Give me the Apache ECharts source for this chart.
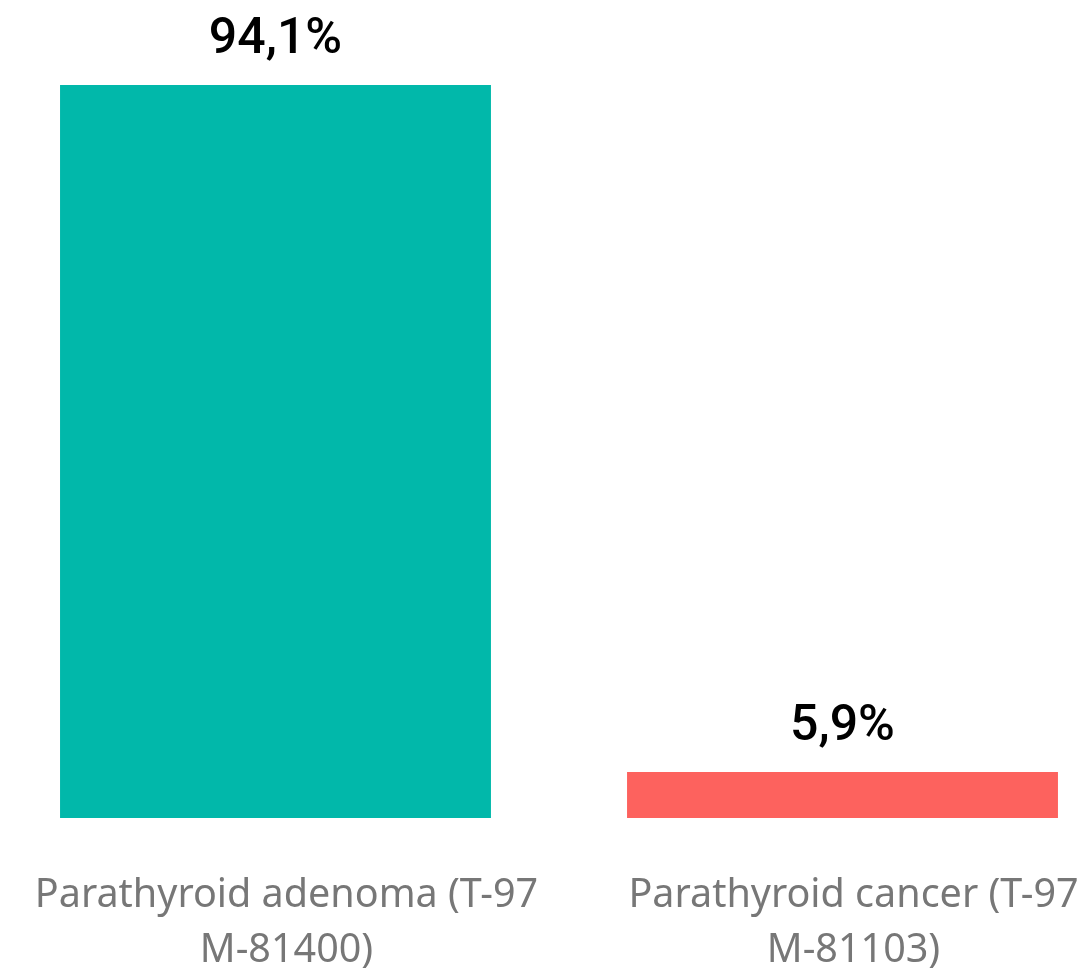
<!DOCTYPE html>
<html>
<head>
<meta charset="utf-8">
<script src="https://cdn.jsdelivr.net/npm/echarts@6/dist/echarts.min.js"></script>
<style>
  html, body { margin: 0; padding: 0; background: #ffffff; }
  #chart { width: 1092px; height: 977px; }
</style>
</head>
<body>
<div id="chart"></div>
<script>
// Share of parathyroid tumour diagnoses, by morphology code
const categories = ['Parathyroid adenoma (T-97 M-81400)', 'Parathyroid cancer (T-97 M-81103)'];
const shares = [94.1, 5.9];
const barColors = ['#01B8AA', '#FD625E'];

const chart = echarts.init(document.getElementById('chart'));

chart.setOption({
  animation: false,
  backgroundColor: '#ffffff',
  grid: {
    left: -8, right: -34, top: 85, bottom: 159,
    containLabel: false,
    outerBoundsMode: 'none'
  },
  xAxis: {
    type: 'category',
    data: categories,
    axisLine: { show: false },
    axisTick: { show: false },
    axisLabel: {
      interval: 0,
      margin: 50,
      color: '#777777',
      fontFamily: 'Noto Sans',
      fontSize: 39.5,
      lineHeight: 55,
      padding: [0, 0, 0, 22],
      formatter: v => v.replace(' M-', '\nM-')
    }
  },
  yAxis: {
    type: 'value',
    min: 0,
    max: 94.1,
    show: false,
    splitLine: { show: false }
  },
  series: [{
    type: 'bar',
    barWidth: '76%',
    data: shares.map((v, i) => ({ value: v, itemStyle: { color: barColors[i] } })),
    label: {
      show: true,
      position: 'top',
      distance: 20,
      color: '#000000',
      fontFamily: 'Roboto',
      fontWeight: 500,
      fontSize: 50,
      formatter: p => p.value.toFixed(1).replace('.', ',') + '%'
    }
  }]
});
</script>
</body>
</html>
